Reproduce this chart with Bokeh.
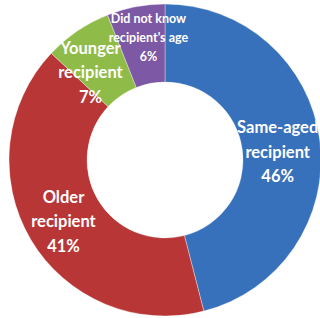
from math import pi, cos, sin
from bokeh.plotting import figure
from bokeh.models import Range1d, ColumnDataSource
from bokeh.core.properties import value
from bokeh.embed import file_html
from bokeh.resources import INLINE

categories = ["Same-aged\nrecipient", "Older\nrecipient", "Younger\nrecipient", "Did not know\nrecipient's age"]
shares = [46, 41, 7, 6]
colors = ["#3871bb", "#b83636", "#8fbc48", "#7d58a5"]

# layout
W, H = 320, 318
cx_px, cy_px = 164.5, 159.5
R_OUT, R_IN = 156, 78

p = figure(width=W, height=H, output_backend="svg", toolbar_location=None,
           x_range=Range1d(-cx_px, W - cx_px), y_range=Range1d(-(H - cy_px), cy_px),
           min_border=0)
p.axis.visible = False
p.grid.visible = False
p.outline_line_color = None
p.background_fill_color = "white"
p.border_fill_color = "white"

total = sum(shares)
starts, ends = [], []
a = pi / 2
for s in shares:
    e = a - 2 * pi * s / total
    starts.append(e)
    ends.append(a)
    a = e

src = ColumnDataSource(dict(start=starts, end=ends, color=colors))
p.annular_wedge(x=0, y=0, inner_radius=R_IN, outer_radius=R_OUT,
                start_angle="start", end_angle="end", fill_color="color",
                line_color="white", line_width=0.6, line_alpha=0.6, source=src)

# label placement (angle offset in degrees, radius, font size, line height)
label_layout = [(-2.9, 113, "16.5px", 1.22), (0.6, 118.7, "16.5px", 1.22),
                (6.2, 115, "16.5px", 1.22), (-3.1, 123.6, "12.5px", 1.25)]
for cat, s, st, en, (off, rad, fs, lh) in zip(categories, shares, starts, ends, label_layout):
    mid = (st + en) / 2 + off * pi / 180
    txt = f"{cat}\n{s}%"
    p.text(x=[rad * cos(mid)], y=[rad * sin(mid)], text=[txt],
           text_align="center", text_baseline="middle",
           text_font=value("Lato"), text_font_style="bold", text_font_size=fs,
           text_color="white", text_line_height=lh)

open("out.html", "w").write(file_html(p, INLINE))
